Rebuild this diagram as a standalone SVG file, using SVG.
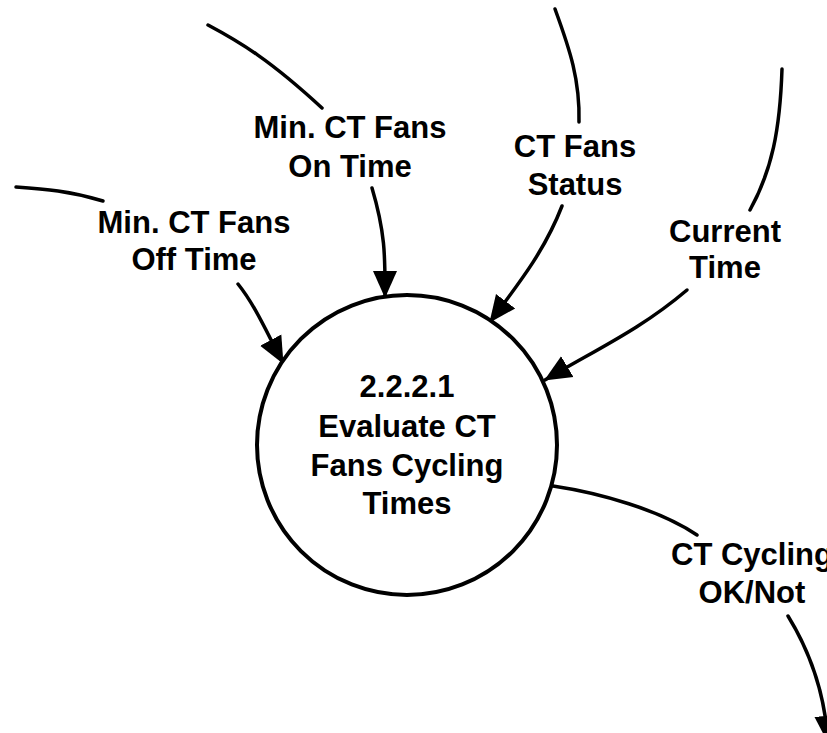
<svg xmlns="http://www.w3.org/2000/svg" width="827" height="733" viewBox="0 0 827 733">
<defs>
<style>
.lbl{font-family:"Liberation Sans",Arial,sans-serif;font-weight:bold;font-size:31px;fill:#000;text-anchor:middle}
.flow{fill:none;stroke:#000;stroke-width:3.5;stroke-linecap:round}
.proc{fill:#fff;stroke:#000;stroke-width:4}
</style>
<marker id="arr" markerUnits="userSpaceOnUse" markerWidth="28" markerHeight="26" refX="26" refY="12" orient="auto" viewBox="0 0 28 24">
<path d="M0,0 L27,12 L0,24 Z" fill="#000"/>
</marker>
</defs>
<rect width="827" height="733" fill="#fff"/>
<g id="connectors">
<path class="flow" d="M16,187 C45,189 70,191 103,201"/>
<path class="flow" d="M238,284 C255,305 268,335 283,363" marker-end="url(#arr)"/>
<path class="flow" d="M208,25 C240,42 270,60 322,108"/>
<path class="flow" d="M372,188 C386,235 385,260 385,297" marker-end="url(#arr)"/>
<path class="flow" d="M555,9 C570,50 580,80 579,122"/>
<path class="flow" d="M562,206 C545,250 520,282 490,322" marker-end="url(#arr)"/>
<path class="flow" d="M782,69 C780,130 772,170 750,210"/>
<path class="flow" d="M687,290 C640,330 595,350 545,380" marker-end="url(#arr)"/>
<path class="flow" d="M553,486 C600,493 660,510 697,535"/>
<path class="flow" d="M788,616 C812,655 825,695 828,742" marker-end="url(#arr)"/>
</g>
<g id="process-2.2.2.1">
<circle class="proc" cx="407" cy="445" r="150"/>
<text class="lbl" x="407" y="397">2.2.2.1</text>
<text class="lbl" x="407" y="437">Evaluate CT</text>
<text class="lbl" x="407" y="476">Fans Cycling</text>
<text class="lbl" x="407" y="514">Times</text>
</g>
<g id="label-off-time">
<text class="lbl" x="194" y="233">Min. CT Fans</text>
<text class="lbl" x="194" y="270">Off Time</text>
</g>
<g id="label-on-time">
<text class="lbl" x="350" y="138">Min. CT Fans</text>
<text class="lbl" x="350" y="177">On Time</text>
</g>
<g id="label-status">
<text class="lbl" x="575" y="157">CT Fans</text>
<text class="lbl" x="575" y="195">Status</text>
</g>
<g id="label-current-time">
<text class="lbl" x="725" y="242">Current</text>
<text class="lbl" x="725" y="278">Time</text>
</g>
<g id="label-cycling">
<text class="lbl" x="752" y="565">CT Cycling</text>
<text class="lbl" x="752" y="603">OK/Not</text>
</g>
</svg>
